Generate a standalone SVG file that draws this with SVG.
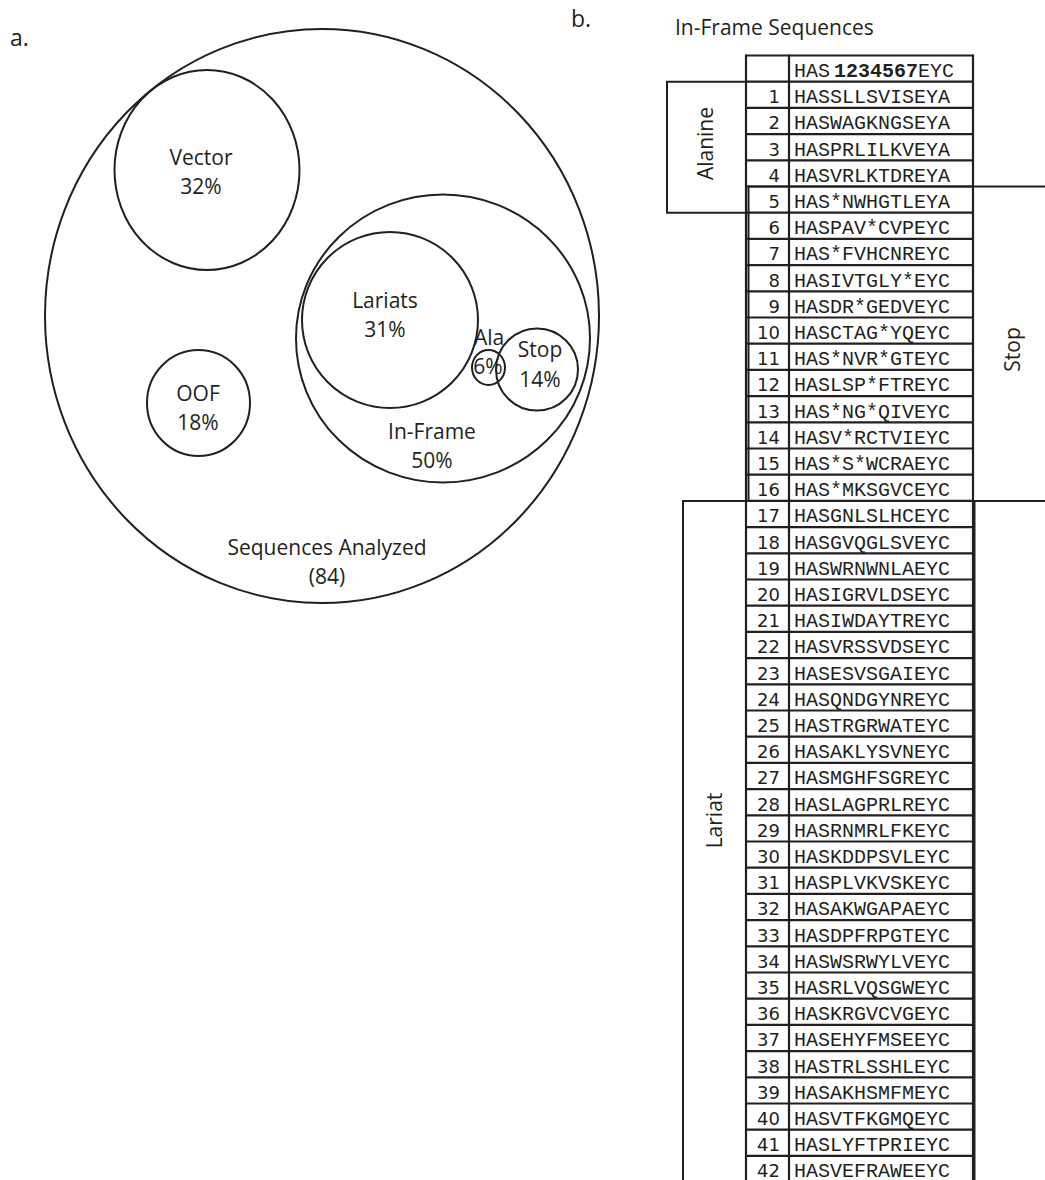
<svg xmlns="http://www.w3.org/2000/svg" width="1045" height="1180" viewBox="0 0 1045 1180">
<style>
.ln{fill:none;stroke:#231f20;stroke-width:2}
.tb{fill:none;stroke:#231f20;stroke-width:2.2}
.lbl{font-family:"Open Sans","Liberation Sans",sans-serif;font-size:21px;fill:#231f20;text-anchor:middle}
.pan{font-family:"Open Sans","Liberation Sans",sans-serif;font-size:23px;fill:#231f20}
.num{font-family:"DejaVu Sans","Liberation Sans",sans-serif;font-size:18px;fill:#231f20;text-anchor:end}
.seq{font-family:"Liberation Mono",monospace;font-size:20px;fill:#231f20}
</style>
<rect width="1045" height="1180" fill="#fff"/>
<text class="pan" x="10" y="46">a.</text>
<text class="pan" x="571" y="27">b.</text>

<g id="sequences-analyzed"><ellipse class="ln" cx="322" cy="316" rx="277" ry="287"/>
<text class="lbl" x="327" y="555">Sequences Analyzed</text><text class="lbl" x="327" y="584">(84)</text></g>
<g id="vector"><ellipse class="ln" cx="207" cy="170" rx="92.5" ry="100"/>
<text class="lbl" x="201" y="165">Vector</text><text class="lbl" x="201" y="194">32%</text></g>
<g id="oof"><ellipse class="ln" cx="198.5" cy="403" rx="51.5" ry="53"/>
<text class="lbl" x="198" y="401">OOF</text><text class="lbl" x="198" y="430">18%</text></g>
<g id="in-frame"><ellipse class="ln" cx="443" cy="338.5" rx="147" ry="144"/>
<text class="lbl" x="432" y="439">In-Frame</text><text class="lbl" x="432" y="468">50%</text></g>
<g id="lariats"><ellipse class="ln" cx="390" cy="320" rx="88" ry="88"/>
<text class="lbl" x="385" y="308">Lariats</text><text class="lbl" x="385" y="337">31%</text></g>
<g id="ala"><ellipse class="ln" cx="488.5" cy="367.5" rx="16.5" ry="17.5"/>
<text class="lbl" x="489" y="345">Ala</text><text class="lbl" x="488" y="374">6%</text></g>
<g id="stop"><circle class="ln" cx="537" cy="369.5" r="41"/>
<text class="lbl" x="540" y="357">Stop</text><text class="lbl" x="540" y="387">14%</text></g>

<g id="title"><text class="lbl" x="675" y="35" style="text-anchor:start">In-Frame Sequences</text></g>

<g id="table-grid">
<path class="tb" d="M746 55.5H973M746 81.7H973M746 107.9H973M746 134.1H973M746 160.3H973M746 186.5H973M746 212.7H973M746 238.9H973M746 265.1H973M746 291.3H973M746 317.5H973M746 343.7H973M746 369.9H973M746 396.1H973M746 422.3H973M746 448.5H973M746 474.7H973M746 500.9H973M746 527.1H973M746 553.3H973M746 579.5H973M746 605.7H973M746 631.9H973M746 658.1H973M746 684.3H973M746 710.5H973M746 736.7H973M746 762.9H973M746 789.1H973M746 815.3H973M746 841.5H973M746 867.7H973M746 893.9H973M746 920.1H973M746 946.3H973M746 972.5H973M746 998.7H973M746 1024.9H973M746 1051.1H973M746 1077.3H973M746 1103.5H973M746 1129.7H973M746 1155.9H973"/>
<path class="tb" d="M746 54.4V1185M789 54.4V1185M973 54.4V1185"/>
</g>

<g id="brackets">
<g id="alanine-bracket"><path class="ln" d="M746 81.7H667V212.7H746"/>
<text class="lbl" x="713" y="143.5" transform="rotate(-90 713 143.5)">Alanine</text></g>
<g id="stop-bracket"><path class="ln" d="M1050 186.5H748.5V500.9H1050"/>
<text class="lbl" x="1020" y="349.5" transform="rotate(-90 1020 349.5)">Stop</text></g>
<g id="lariat-bracket"><path class="ln" d="M683 1185V500.9H974.5V1185"/>
<text class="lbl" x="722" y="820.5" transform="rotate(-90 722 820.5)">Lariat</text></g>
</g>

<g id="header"><text class="seq" x="794" y="76.7">HAS</text><text class="seq" x="834" y="76.7" font-weight="bold">1234567</text><text class="seq" x="918" y="76.7">EYC</text></g>
<g id="row-1"><text class="num" x="780" y="103.2">1</text><text class="seq" x="794" y="103.2">HASSLLSVISEYA</text></g>
<g id="row-2"><text class="num" x="780" y="129.4">2</text><text class="seq" x="794" y="129.4">HASWAGKNGSEYA</text></g>
<g id="row-3"><text class="num" x="780" y="155.6">3</text><text class="seq" x="794" y="155.6">HASPRLILKVEYA</text></g>
<g id="row-4"><text class="num" x="780" y="181.8">4</text><text class="seq" x="794" y="181.8">HASVRLKTDREYA</text></g>
<g id="row-5"><text class="num" x="780" y="208">5</text><text class="seq" x="794" y="208">HAS*NWHGTLEYA</text></g>
<g id="row-6"><text class="num" x="780" y="234.2">6</text><text class="seq" x="794" y="234.2">HASPAV*CVPEYC</text></g>
<g id="row-7"><text class="num" x="780" y="260.4">7</text><text class="seq" x="794" y="260.4">HAS*FVHCNREYC</text></g>
<g id="row-8"><text class="num" x="780" y="286.6">8</text><text class="seq" x="794" y="286.6">HASIVTGLY*EYC</text></g>
<g id="row-9"><text class="num" x="780" y="312.8">9</text><text class="seq" x="794" y="312.8">HASDR*GEDVEYC</text></g>
<g id="row-10"><text class="num" x="780" y="339">10</text><text class="seq" x="794" y="339">HASCTAG*YQEYC</text></g>
<g id="row-11"><text class="num" x="780" y="365.2">11</text><text class="seq" x="794" y="365.2">HAS*NVR*GTEYC</text></g>
<g id="row-12"><text class="num" x="780" y="391.4">12</text><text class="seq" x="794" y="391.4">HASLSP*FTREYC</text></g>
<g id="row-13"><text class="num" x="780" y="417.6">13</text><text class="seq" x="794" y="417.6">HAS*NG*QIVEYC</text></g>
<g id="row-14"><text class="num" x="780" y="443.8">14</text><text class="seq" x="794" y="443.8">HASV*RCTVIEYC</text></g>
<g id="row-15"><text class="num" x="780" y="470">15</text><text class="seq" x="794" y="470">HAS*S*WCRAEYC</text></g>
<g id="row-16"><text class="num" x="780" y="496.2">16</text><text class="seq" x="794" y="496.2">HAS*MKSGVCEYC</text></g>
<g id="row-17"><text class="num" x="780" y="522.4">17</text><text class="seq" x="794" y="522.4">HASGNLSLHCEYC</text></g>
<g id="row-18"><text class="num" x="780" y="548.6">18</text><text class="seq" x="794" y="548.6">HASGVQGLSVEYC</text></g>
<g id="row-19"><text class="num" x="780" y="574.8">19</text><text class="seq" x="794" y="574.8">HASWRNWNLAEYC</text></g>
<g id="row-20"><text class="num" x="780" y="601">20</text><text class="seq" x="794" y="601">HASIGRVLDSEYC</text></g>
<g id="row-21"><text class="num" x="780" y="627.2">21</text><text class="seq" x="794" y="627.2">HASIWDAYTREYC</text></g>
<g id="row-22"><text class="num" x="780" y="653.4">22</text><text class="seq" x="794" y="653.4">HASVRSSVDSEYC</text></g>
<g id="row-23"><text class="num" x="780" y="679.6">23</text><text class="seq" x="794" y="679.6">HASESVSGAIEYC</text></g>
<g id="row-24"><text class="num" x="780" y="705.8">24</text><text class="seq" x="794" y="705.8">HASQNDGYNREYC</text></g>
<g id="row-25"><text class="num" x="780" y="732">25</text><text class="seq" x="794" y="732">HASTRGRWATEYC</text></g>
<g id="row-26"><text class="num" x="780" y="758.2">26</text><text class="seq" x="794" y="758.2">HASAKLYSVNEYC</text></g>
<g id="row-27"><text class="num" x="780" y="784.4">27</text><text class="seq" x="794" y="784.4">HASMGHFSGREYC</text></g>
<g id="row-28"><text class="num" x="780" y="810.6">28</text><text class="seq" x="794" y="810.6">HASLAGPRLREYC</text></g>
<g id="row-29"><text class="num" x="780" y="836.8">29</text><text class="seq" x="794" y="836.8">HASRNMRLFKEYC</text></g>
<g id="row-30"><text class="num" x="780" y="863">30</text><text class="seq" x="794" y="863">HASKDDPSVLEYC</text></g>
<g id="row-31"><text class="num" x="780" y="889.2">31</text><text class="seq" x="794" y="889.2">HASPLVKVSKEYC</text></g>
<g id="row-32"><text class="num" x="780" y="915.4">32</text><text class="seq" x="794" y="915.4">HASAKWGAPAEYC</text></g>
<g id="row-33"><text class="num" x="780" y="941.6">33</text><text class="seq" x="794" y="941.6">HASDPFRPGTEYC</text></g>
<g id="row-34"><text class="num" x="780" y="967.8">34</text><text class="seq" x="794" y="967.8">HASWSRWYLVEYC</text></g>
<g id="row-35"><text class="num" x="780" y="994">35</text><text class="seq" x="794" y="994">HASRLVQSGWEYC</text></g>
<g id="row-36"><text class="num" x="780" y="1020.2">36</text><text class="seq" x="794" y="1020.2">HASKRGVCVGEYC</text></g>
<g id="row-37"><text class="num" x="780" y="1046.4">37</text><text class="seq" x="794" y="1046.4">HASEHYFMSEEYC</text></g>
<g id="row-38"><text class="num" x="780" y="1072.6">38</text><text class="seq" x="794" y="1072.6">HASTRLSSHLEYC</text></g>
<g id="row-39"><text class="num" x="780" y="1098.8">39</text><text class="seq" x="794" y="1098.8">HASAKHSMFMEYC</text></g>
<g id="row-40"><text class="num" x="780" y="1125">40</text><text class="seq" x="794" y="1125">HASVTFKGMQEYC</text></g>
<g id="row-41"><text class="num" x="780" y="1151.2">41</text><text class="seq" x="794" y="1151.2">HASLYFTPRIEYC</text></g>
<g id="row-42"><text class="num" x="780" y="1176.5">42</text><text class="seq" x="794" y="1176.5">HASVEFRAWEEYC</text></g>
</svg>
